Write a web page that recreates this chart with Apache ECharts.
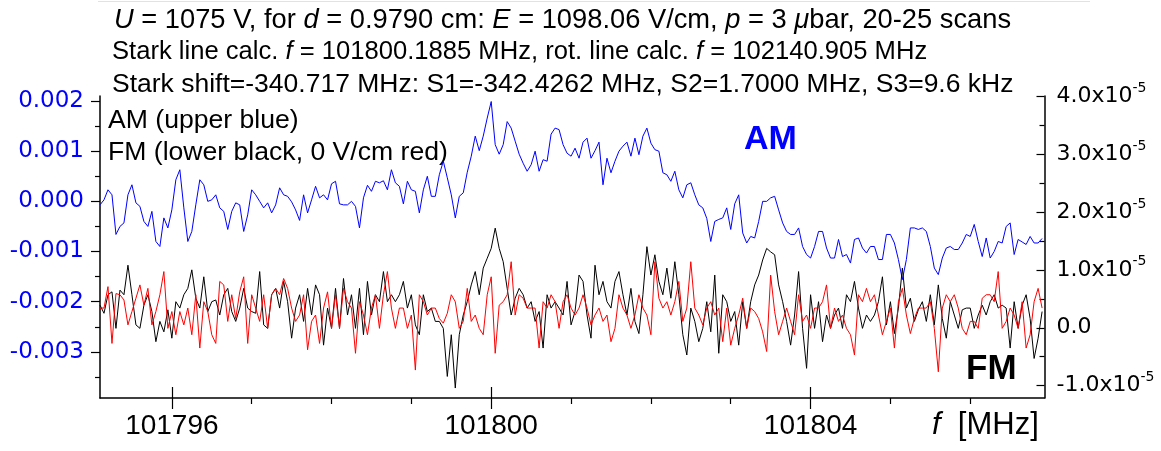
<!DOCTYPE html>
<html>
<head>
<meta charset="utf-8">
<script src="https://cdn.jsdelivr.net/npm/echarts@6/dist/echarts.min.js"></script>
<style>
  html, body { margin: 0; padding: 0; background: #fff; }
  #stark-chart { width: 1161px; height: 451px; }
</style>
</head>
<body>
<div id="stark-chart"></div>
<script>
// frequency grid of the scan (MHz)
const fStart = 101795.1
const fStep = 0.05

// AM signal, upper blue trace (units of 1e-3, left axis)
const amValues = [
  -0.07, 0.03, 0.23, 0.13, -0.66, -0.50, -0.43, 0.13, 0.33, -0.03, -0.10, -0.40, -0.50, -0.20, -0.80, -0.90, -0.33, -0.53, -0.17, 0.43,
  0.63, -0.13, -0.80, -0.60, -0.07, 0.43, 0.33, 0.00, 0.03, 0.13, -0.13, -0.20, -0.56, -0.20, -0.03, -0.07, -0.60, -0.27, 0.23, 0.13,
  0.00, -0.13, -0.03, -0.23, -0.07, 0.27, 0.13, 0.10, -0.01, -0.17, -0.38, 0.13, -0.23, 0.03, 0.30, 0.07, 0.13, 0.03, 0.35, 0.40,
  -0.05, -0.07, -0.07, 0.00, -0.10, -0.53, 0.07, 0.32, 0.20, 0.40, 0.37, 0.41, 0.23, 0.63, 0.37, 0.30, -0.05, 0.40, 0.23, 0.20,
  -0.23, 0.23, 0.50, 0.10, 0.10, 0.53, 0.80, 0.47, 0.13, -0.33, 0.10, 0.17, 0.58, 0.90, 1.30, 1.01, 1.30, 1.66, 1.99, 1.13,
  0.94, 1.13, 1.59, 1.46, 1.20, 0.94, 0.76, 0.60, 0.73, 1.00, 0.60, 0.83, 0.80, 1.34, 1.46, 1.43, 1.13, 0.96, 0.90, 1.06,
  0.86, 1.18, 1.26, 0.86, 1.01, 1.18, 0.33, 0.86, 0.57, 0.80, 1.00, 1.10, 1.18, 0.90, 1.26, 0.93, 1.30, 1.46, 1.16, 1.03,
  1.00, 0.57, 0.53, 0.40, 0.60, 0.23, 0.07, 0.33, 0.37, 0.13, -0.07, -0.13, -0.34, -0.80, -0.40, -0.36, -0.33, -0.13, -0.56, -0.05,
  0.13, -0.63, -0.83, -0.70, -0.73, -0.40, 0.00, 0.00, 0.07, 0.10, -0.17, -0.43, -0.60, -0.66, -0.66, -0.53, -0.90, -1.06, -1.13, -0.90,
  -0.60, -0.60, -0.93, -1.13, -1.13, -0.76, -1.10, -1.06, -1.23, -0.76, -0.73, -0.93, -1.03, -0.90, -0.90, -1.16, -1.16, -0.66, -0.66, -0.83,
  -1.16, -1.56, -1.16, -0.53, -0.53, -0.56, -0.53, -0.60, -0.90, -1.33, -1.46, -1.13, -0.93, -0.90, -0.96, -0.96, -0.83, -0.66, -0.70, -0.46,
  -0.80, -1.10, -0.73, -1.13, -1.00, -0.80, -0.83, -0.50, -0.43, -1.06, -0.76, -0.81, -0.86, -0.70, -0.83, -0.83, -0.74
]

// FM signal, lower black trace (units of 1e-5, right axis)
const fmBlack = [
  0.39, 0.25, 0.57, 0.62, -0.01, 0.65, 0.57, 1.08, 0.57, 0.05, -0.01, 0.39, 0.57, 0.28, -0.24, 0.11, -0.07, 0.31, -0.18, 0.45,
  0.34, 0.57, 0.68, 1.00, 0.51, 0.34, 0.88, 0.28, 0.45, 0.48, 0.22, 0.57, 0.68, 0.28, 0.11, 0.34, 0.68, 0.34, 0.28, 0.25,
  0.97, 0.05, -0.01, 0.57, 0.68, 0.34, 0.80, 0.45, -0.18, 0.34, 0.57, 0.11, 0.68, 0.22, 0.74, 0.57, -0.30, 0.34, -0.01, 0.68,
  -0.01, 0.85, 0.22, 0.57, -0.01, 0.68, -0.12, 0.80, 0.22, 0.57, 0.45, 0.97, 0.45, 0.57, 0.45, 0.57, 0.80, 0.34, 0.57, 0.05,
  -0.12, 0.57, 0.28, 0.34, 0.11, 0.11, -0.01, -0.84, -0.12, -1.04, -0.12, 0.22, 0.45, 0.74, 0.97, 0.57, 1.03, 1.20, 1.37, 1.72,
  1.37, 1.14, 0.68, 0.22, 0.51, 0.68, 0.57, 0.34, 0.45, 0.11, 0.28, -0.35, 0.57, 0.34, 0.45, 0.34, 0.22, 0.80, 0.05, 0.28,
  0.91, 0.80, 0.22, -0.18, 1.08, 0.57, 0.80, 0.45, 0.34, 0.80, 0.97, 0.57, 0.22, 0.68, 0.11, -0.10, 0.57, 1.40, 0.91, 1.26,
  0.80, 0.57, 1.03, 0.51, 1.14, 0.57, -0.12, -0.47, 0.34, 0.11, -0.24, -0.01, 0.45, -0.07, 0.91, -0.44, 0.57, 0.45, 0.11, 0.28,
  -0.30, 0.45, -0.01, 0.45, 0.74, 0.91, 1.17, 1.37, 1.31, 1.26, 0.74, 0.45, 0.11, -0.30, 0.22, 0.97, -0.01, -0.70, 0.57, -0.01,
  0.45, -0.24, 0.22, -0.01, 0.22, 0.34, -0.01, 0.57, 0.45, 0.80, 0.34, -0.01, 0.22, 0.11, 0.22, 0.45, 0.88, 0.05, 0.45, -0.10,
  0.34, 1.03, 0.34, 0.51, 0.11, 0.31, 0.45, 0.11, 0.57, 0.05, 0.74, 0.16, -0.18, 0.45, 0.22, -0.01, 0.31, 0.34, 0.34, -0.01,
  0.22, 0.39, 0.22, 0.45, 0.57, 0.34, 0.39, 0.34, -0.35, 0.45, -0.01, 0.39, 0.57, 0.16, -0.53, -0.18, 0.28
]

// FM signal at 0 V/cm, red trace (units of 1e-5, right axis)
const fmRed = [
  0.34, 0.34, 0.71, -0.27, 0.59, 0.57, 0.48, 0.05, 0.28, 0.51, 0.74, 0.39, 0.68, 0.05, 0.28, 0.57, 0.97, -0.01, 0.28, -0.12,
  0.28, 0.05, 0.34, -0.12, 0.57, -0.35, 0.45, 0.28, -0.12, -0.27, 0.80, 0.74, 0.11, 0.57, 0.16, 0.62, 0.88, -0.27, 0.57, 0.34,
  0.11, 0.57, -0.01, 0.57, 0.68, 0.57, 0.85, 0.68, 0.34, 0.11, 0.22, 0.57, -0.38, 0.11, 0.22, -0.27, 0.34, 0.62, -0.01, 0.57,
  -0.01, 0.68, 0.45, 0.34, -0.44, 0.45, 0.22, -0.12, 0.34, 0.57, -0.01, 0.57, 0.97, 0.34, -0.01, 0.34, 0.34, -0.01, 0.22, -0.73,
  0.57, 0.45, 0.22, 0.34, 0.34, 0.16, 0.08, 0.25, 0.57, 0.45, -0.01, 0.11, 0.68, 0.11, 0.22, -0.01, -0.12, 0.57, 0.88, -0.44,
  0.39, 0.45, 0.57, 1.14, 0.22, 0.57, 0.51, 0.34, 0.34, 0.34, -0.35, 0.45, 0.34, 0.57, 0.45, -0.01, 0.45, 0.57, 0.34, 0.22,
  0.34, 0.57, 0.34, 0.05, 0.22, 0.34, 0.11, 0.22, -0.24, -0.01, 0.57, 0.34, 0.22, -0.01, 0.22, 0.57, 0.34, 0.22, -0.12, 1.14,
  0.51, 0.34, 0.45, 0.22, 0.45, 0.80, 0.11, 0.34, 1.14, 0.34, 0.22, 0.05, 0.34, 0.45, 0.22, 0.34, -0.24, 0.34, -0.30, -0.01,
  0.22, 0.51, -0.01, 0.34, 0.28, 0.16, -0.07, -0.41, 0.91, 0.28, -0.12, 0.11, 0.34, 0.11, -0.12, 0.57, 0.11, 0.22, -0.01, 0.34,
  0.34, 0.45, 0.74, -0.01, 0.34, 0.11, 0.22, -0.01, -0.12, -0.47, 0.57, 0.45, 0.68, 0.45, 0.57, 0.22, -0.12, 0.11, 0.34, -0.35,
  0.45, 0.68, 0.22, -0.10, 0.16, 0.34, 0.34, 0.34, 0.45, -0.01, -0.76, 0.34, 0.57, 0.45, 0.57, 0.34, -0.01, -0.12, 0.11, 0.11,
  -0.01, 0.51, 0.57, 0.57, 0.45, 0.97, -0.01, 0.11, 0.34, 0.22, -0.01, 0.45, -0.35, -0.12, 0.45, 0.68, 0.34
]

// ticks
const fTicks = [101796, 101800, 101804]
const fMinorTicks = [101797, 101798, 101799, 101801, 101802, 101803, 101805, 101806]
const amTicks = [-3, -2, -1, 0, 1, 2]
const amMinorTicks = [-3.5, -2.5, -1.5, -0.5, 0.5, 1.5]
const fmTicks = [-1, 0, 1, 2, 3, 4]
const fmMinorTicks = [-0.5, 0.5, 1.5, 2.5, 3.5]

const headerLines = [
  '{i|U} = 1075 V, for {i|d} = 0.9790 cm: {i|E} = 1098.06 V/cm, {i|p} = 3 {i|\u03bc}bar, 20-25 scans',
  'Stark line calc. {i|f} = 101800.1885 MHz, rot. line calc. {i|f} = 102140.905 MHz',
  'Stark shift=-340.717 MHz: S1=-342.4262 MHz, S2=1.7000 MHz, S3=9.6 kHz',
  'AM (upper blue)',
  'FM (lower black, 0 V/cm red)'
]

const ARIAL = 'Liberation Sans, Arial, sans-serif'
const WIDE = 'DejaVu Sans, sans-serif'

const toPairs = vals => vals.map((v, i) => [fStart + i * fStep, v])

function textItem(x, y, text, size, extra) {
  return {
    type: 'text',
    x: x,
    y: y,
    silent: true,
    style: Object.assign({
      text: text,
      fill: '#000',
      fontSize: size,
      fontFamily: ARIAL,
      verticalAlign: 'middle',
      rich: {
        i: { fontStyle: 'italic', fontSize: size, fontFamily: ARIAL, fill: '#000' }
      }
    }, extra || {})
  }
}

// extra x axes that only carry tick marks
const tickAxisX = (values, length, inside, extra) => Object.assign({
  type: 'value',
  position: 'bottom',
  min: 101795.1,
  max: 101806.93,
  axisLine: { show: false, onZero: false },
  splitLine: { show: false },
  axisLabel: { show: false },
  axisTick: { show: true, inside: inside, length: length, customValues: values, lineStyle: { color: '#000', width: 1.2 } }
}, extra || {})

const tickAxisY = (pos, min, max, values, length, inside) => ({
  type: 'value',
  position: pos,
  min: min,
  max: max,
  axisLine: { show: false, onZero: false },
  splitLine: { show: false },
  axisLabel: { show: false },
  axisTick: { show: true, inside: inside, length: length, customValues: values, lineStyle: { color: '#000', width: 1.2 } }
})

const chart = echarts.init(document.getElementById('stark-chart'))

const option = {
  animation: false,
  backgroundColor: '#fff',
  grid: { left: 100, right: 116.5, top: 96, bottom: 53, outerBoundsMode: 'none' },
  xAxis: [
    tickAxisX(fTicks, 11, false, {
      axisLine: { show: true, onZero: false, lineStyle: { color: '#000', width: 1.5 } },
      axisLabel: {
        show: true,
        customValues: fTicks,
        margin: 14,
        color: '#000',
        fontSize: 28,
        fontFamily: ARIAL,
        formatter: v => String(v)
      }
    }),
    tickAxisX(fTicks, 11, true),
    tickAxisX(fMinorTicks, 6, false)
  ],
  yAxis: [
    {
      type: 'value',
      position: 'left',
      min: -3.92,
      max: 2.10,
      axisLine: { show: true, onZero: false, lineStyle: { color: '#000', width: 1.5 } },
      splitLine: { show: false },
      axisTick: { show: true, length: 9, customValues: amTicks, lineStyle: { color: '#000', width: 1.2 } },
      axisLabel: {
        customValues: amTicks,
        margin: 16,
        color: '#0000ff',
        fontSize: 23,
        fontFamily: WIDE,
        formatter: v => (v / 1000).toFixed(3)
      }
    },
    tickAxisY('left', -3.92, 2.10, amMinorTicks, 5, false),
    {
      type: 'value',
      position: 'right',
      min: -1.212,
      max: 4.0,
      axisLine: { show: true, onZero: false, lineStyle: { color: '#000', width: 1.5 } },
      splitLine: { show: false },
      axisTick: { show: true, inside: true, length: 8, customValues: fmTicks, lineStyle: { color: '#000', width: 1.2 } },
      axisLabel: {
        customValues: fmTicks,
        margin: 12,
        color: '#000',
        fontSize: 22,
        fontFamily: WIDE,
        formatter: v => v === 0 ? '0.0' : '{m|' + v.toFixed(1) + 'x10}{e|-5}',
        rich: {
          m: { fontSize: 22, fontFamily: WIDE, color: '#000' },
          e: { fontSize: 14, fontFamily: WIDE, color: '#000', padding: [0, 0, 16, 0] }
        }
      }
    },
    tickAxisY('right', -1.212, 4.0, fmMinorTicks, 5, true)
  ],
  graphic: [
    { type: 'line', silent: true, shape: { x1: 98, y1: 1.5, x2: 1090, y2: 1.5 }, style: { stroke: '#e2e2e2', lineWidth: 1 } },
    textItem(114, 20, headerLines[0], 27.3),
    textItem(112, 52, headerLines[1], 25.6),
    textItem(112, 85, headerLines[2], 26.5),
    textItem(108, 121, headerLines[3], 26.6),
    textItem(108, 153, headerLines[4], 26.6),
    textItem(744, 140, 'AM', 34, { fill: '#0000ff', fontWeight: 'bold' }),
    textItem(966, 369, 'FM', 35, { fontWeight: 'bold' }),
    textItem(932, 425, '{i|f}  [MHz]', 31)
  ],
  series: [
    {
      name: 'AM',
      type: 'line',
      xAxisIndex: 0,
      yAxisIndex: 0,
      data: toPairs(amValues),
      showSymbol: false,
      symbol: 'none',
      lineStyle: { color: '#0000ff', width: 1 },
      z: 3
    },
    {
      name: 'FM',
      type: 'line',
      xAxisIndex: 0,
      yAxisIndex: 2,
      data: toPairs(fmBlack),
      showSymbol: false,
      symbol: 'none',
      lineStyle: { color: '#000', width: 1 },
      z: 3
    },
    {
      name: 'FM 0 V/cm',
      type: 'line',
      xAxisIndex: 0,
      yAxisIndex: 2,
      data: toPairs(fmRed),
      showSymbol: false,
      symbol: 'none',
      lineStyle: { color: '#ff0000', width: 1 },
      z: 4
    }
  ]
}

chart.setOption(option)
</script>
</body>
</html>
